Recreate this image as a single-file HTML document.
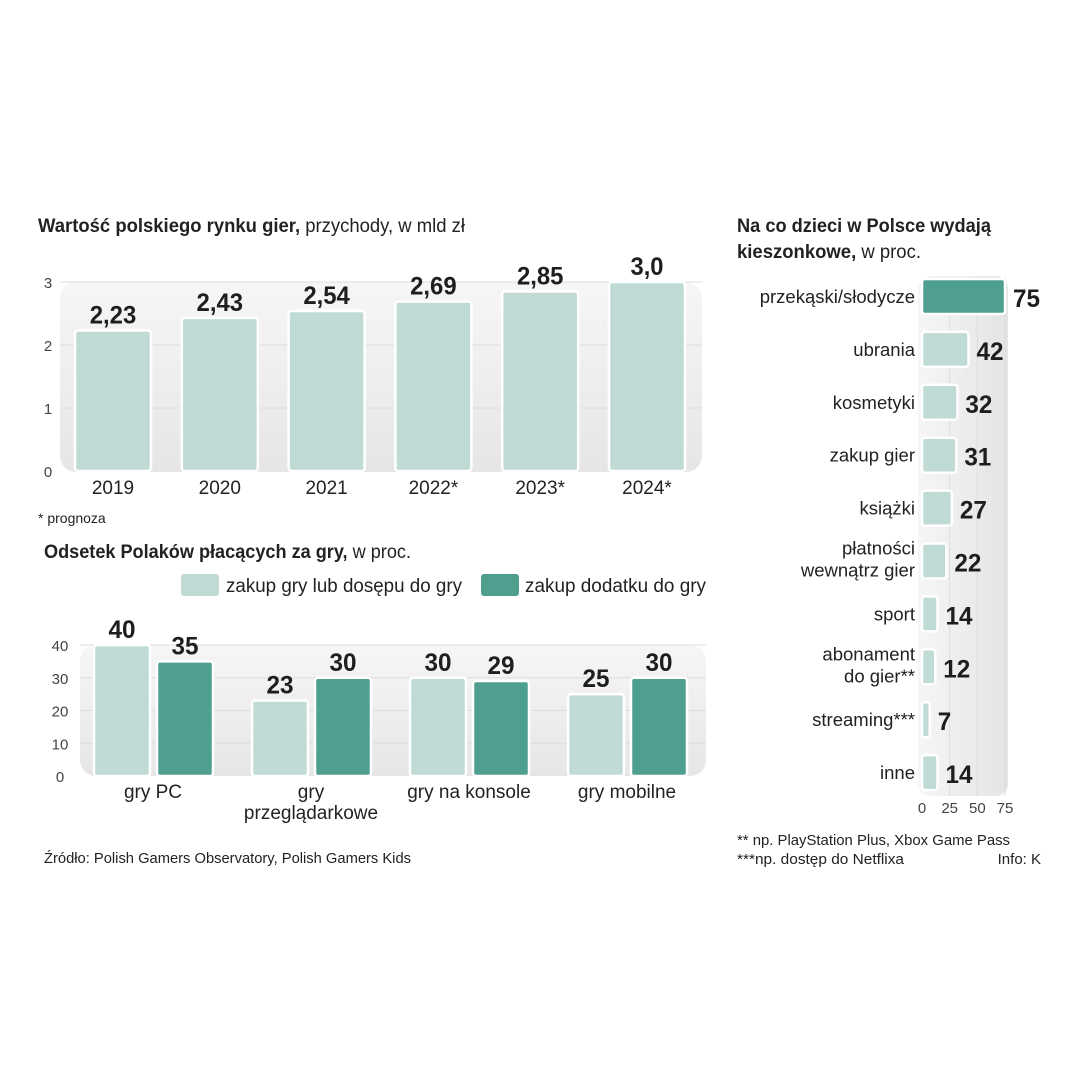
<!DOCTYPE html>
<html><head><meta charset="utf-8"><style>
body{margin:0;background:#fff;width:1080px;height:1080px;overflow:hidden}
svg{display:block}
text{font-family:"Liberation Sans",sans-serif;fill:#222}
.v{font-family:"Liberation Sans",sans-serif;font-weight:bold;font-size:25px;fill:#1e1e1e}
.t{font-size:15px;fill:#444}
</style></head><body>
<svg id="s" width="1080" height="1080" viewBox="0 0 1080 1080">
<defs>
<linearGradient id="pg" x1="0" y1="0" x2="0" y2="1"><stop offset="0" stop-color="#f6f6f6"/><stop offset="1" stop-color="#e6e6e6"/></linearGradient>
<linearGradient id="pg2" x1="0" y1="0" x2="1" y2="0"><stop offset="0" stop-color="#f6f6f6"/><stop offset="1" stop-color="#e4e4e4"/></linearGradient>
</defs>
<text x="38" y="232" font-size="19" textLength="427" lengthAdjust="spacingAndGlyphs"><tspan font-weight="bold">Wartość polskiego rynku gier,</tspan> przychody, w mld zł</text>
<rect x="60" y="282" width="642" height="190" rx="16" fill="url(#pg)"/>
<g id="c1"></g>
<text x="38" y="523" font-size="14">* prognoza</text>
<text x="44" y="558" font-size="19" textLength="367" lengthAdjust="spacingAndGlyphs"><tspan font-weight="bold">Odsetek Polaków płacących za gry,</tspan> w proc.</text>
<rect x="180" y="573" width="40" height="24" rx="4" fill="#c0dad5" stroke="#fff" stroke-width="2"/>
<text x="226" y="592" font-size="19" textLength="236" lengthAdjust="spacingAndGlyphs">zakup gry lub dosępu do gry</text>
<rect x="480" y="573" width="40" height="24" rx="4" fill="#4f9f91" stroke="#fff" stroke-width="2"/>
<text x="525" y="592" font-size="19" textLength="181" lengthAdjust="spacingAndGlyphs">zakup dodatku do gry</text>
<rect x="80" y="645" width="626" height="131" rx="16" fill="url(#pg)"/>
<g id="c2"></g>
<text x="44" y="863" font-size="15" textLength="367" lengthAdjust="spacingAndGlyphs">Źródło: Polish Gamers Observatory, Polish Gamers Kids</text>
<text x="737" y="232" font-size="19" font-weight="bold" textLength="254" lengthAdjust="spacingAndGlyphs">Na co dzieci w Polsce wydają</text>
<text x="737" y="258" font-size="19" textLength="184" lengthAdjust="spacingAndGlyphs"><tspan font-weight="bold">kieszonkowe,</tspan> w proc.</text>
<rect x="918" y="276" width="90" height="520" rx="12" fill="url(#pg2)"/>
<g id="c3"></g>
<text x="737" y="845" font-size="15" textLength="273" lengthAdjust="spacingAndGlyphs">** np. PlayStation Plus, Xbox Game Pass</text>
<text x="737" y="864" font-size="15" textLength="167" lengthAdjust="spacingAndGlyphs">***np. dostęp do Netflixa</text>
<text x="1041" y="864" font-size="15" text-anchor="end">Info: K</text>
</svg>
<script>
const years=["2019","2020","2021","2022*","2023*","2024*"];
const revenue=[2.23,2.43,2.54,2.69,2.85,3.0];
const revenueLabels=["2,23","2,43","2,54","2,69","2,85","3,0"];
const ticks1=[0,1,2,3];
const cats2=[["gry PC"],["gry","przeglądarkowe"],["gry na konsole"],["gry mobilne"]];
const gameAccess=[40,23,30,25];
const addons=[35,30,29,30];
const ticks2=[0,10,20,30,40];
const cats3=[["przekąski/słodycze"],["ubrania"],["kosmetyki"],["zakup gier"],["książki"],["płatności","wewnątrz gier"],["sport"],["abonament","do gier**"],["streaming***"],["inne"]];
const spend=[75,42,32,31,27,22,14,12,7,14];
const ticks3=[0,25,50,75];
const NS="http://www.w3.org/2000/svg";
function mk(p,tag,a,txt){const e=document.createElementNS(NS,tag);for(const k in a)e.setAttribute(k,a[k]);if(txt!=null)e.textContent=txt;p.appendChild(e);return e;}
function vlen(s){s=String(s);let w=0;for(const ch of s)w+=(ch===','?6:13.5);return w;}
// chart 1
const c1=document.getElementById('c1');
const y1=v=>471-v*63, x1=i=>75+i*106.8;
ticks1.forEach(t=>{
 if(t>0){const l=mk(c1,'line',{x1:60,x2:702,y1:y1(t),y2:y1(t),stroke:'#dcdcdc'});
 
 }
 const tx=mk(c1,'text',{x:48,y:y1(t)+6,'text-anchor':'middle',class:'t'},t);
 
 
});
revenue.forEach((v,i)=>{
 const r=mk(c1,'rect',{x:x1(i),y:y1(v),width:76,height:471-y1(v),rx:3,fill:'#c0dad5',stroke:'#fff','stroke-width':2.5});
 
 
 const t=mk(c1,'text',{x:x1(i)+38,y:y1(v)-7,'text-anchor':'middle',class:'v',textLength:vlen(revenueLabels[i]),lengthAdjust:'spacingAndGlyphs'},revenueLabels[i]);
 
 
 const c=mk(c1,'text',{x:x1(i)+38,y:494,'text-anchor':'middle','font-size':19},years[i]);
 
 
});
// chart 2
const c2=document.getElementById('c2');
const y2=v=>776-v*3.275, gx=i=>94+i*158;
ticks2.forEach(t=>{
 if(t>0){const l=mk(c2,'line',{x1:80,x2:706,y1:y2(t),y2:y2(t),stroke:'#dcdcdc'});
 
 }
 const tx=mk(c2,'text',{x:60,y:y2(t)+6,'text-anchor':'middle',class:'t'},t);
 
 
});
cats2.forEach((c,i)=>{
 [[gameAccess[i],'#c0dad5',0],[addons[i],'#4f9f91',63]].forEach(([v,f,o],j)=>{
  const r=mk(c2,'rect',{x:gx(i)+o,y:y2(v),width:56,height:776-y2(v),rx:3,fill:f,stroke:'#fff','stroke-width':2.5});
  
  
  const t=mk(c2,'text',{x:gx(i)+o+28,y:y2(v)-7,'text-anchor':'middle',class:'v',textLength:vlen(v),lengthAdjust:'spacingAndGlyphs'},v);
  
  
 });
 c.forEach((line,k)=>{
  const t=mk(c2,'text',{x:gx(i)+59,y:798+k*21,'text-anchor':'middle','font-size':19},line);
  
  
 });
});
// chart 3
const c3=document.getElementById('c3');
const x3=v=>922+v*1.107, ry=i=>279+i*52.9;
ticks3.forEach(t=>{
 if(t>0){const l=mk(c3,'line',{x1:x3(t),x2:x3(t),y1:278,y2:796,stroke:'#dcdcdc'});
 
 }
 const tx=mk(c3,'text',{x:x3(t),y:813,'text-anchor':'middle',class:'t'},t);
 
 
});
spend.forEach((v,i)=>{
 const r=mk(c3,'rect',{x:922,y:ry(i),width:x3(v)-922,height:35,rx:3,fill:i===0?'#4f9f91':'#c0dad5',stroke:'#fff','stroke-width':2.5});
 
 
 const t=mk(c3,'text',{x:x3(v)+8,y:ry(i)+28,class:'v',textLength:vlen(v),lengthAdjust:'spacingAndGlyphs'},v);
 
 
 const lines=cats3[i];
 lines.forEach((ln,k)=>{
  const yy=ry(i)+24+(k-(lines.length-1)/2)*22-(lines.length>1?2:0);
  const c=mk(c3,'text',{x:915,y:yy,'text-anchor':'end','font-size':18.5},ln);
  
  
 });
});
</script>
</body></html>
